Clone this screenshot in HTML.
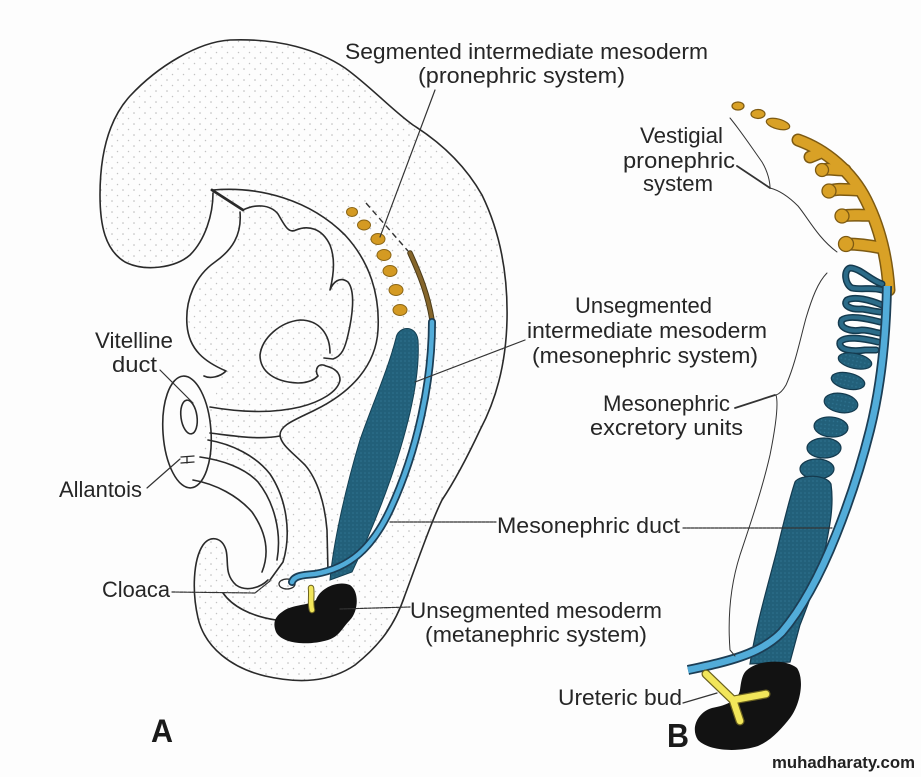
<!DOCTYPE html>
<html>
<head>
<meta charset="utf-8">
<style>
html,body{margin:0;padding:0;background:#fdfdfd;}
svg{display:block;}
text{font-family:"Liberation Sans",Arial,sans-serif;fill:#262626;}
</style>
</head>
<body>
<svg width="921" height="777" viewBox="0 0 921 777" xmlns="http://www.w3.org/2000/svg">
<defs>
<pattern id="st" width="11" height="11" patternUnits="userSpaceOnUse">
<circle cx="2" cy="3" r="0.75" fill="#b4b4b4"/>
<circle cx="7.5" cy="8.5" r="0.75" fill="#c2c2c2"/>
</pattern>
<pattern id="tp" width="4" height="4" patternUnits="userSpaceOnUse">
<rect width="4" height="4" fill="#22607a"/>
<circle cx="1" cy="1" r="0.8" fill="#2f7390"/>
</pattern>
</defs>
<rect width="921" height="777" fill="#fdfdfd"/>

<!-- Embryo A stipple fill -->
<path fill="url(#st)" d="M213,193 C213,215 205,240 190,255 C175,268 145,272 125,262 C105,250 100,225 100,195 C100,150 110,118 130,96 C158,66 198,42 230,40 C280,38 318,50 345,68 C370,86 392,110 413,125 C440,142 465,165 482,195 C500,232 508,275 507,320 C506,365 496,400 480,430 C465,462 452,485 442,500 C432,520 418,560 405,595 C395,625 380,645 355,665 C330,682 300,684 265,676 C232,668 205,648 198,618 C192,592 193,560 203,545 C210,535 222,537 226,550 C229,562 224,574 236,585 C246,592 260,588 268,580 L280,550 L275,505 L250,475 L205,455 L200,440 L212,405 L222,376 L200,352 L187,318 L200,280 L233,252 L237,222 Z"/>

<g fill="none" stroke="#2a2a2a" stroke-width="1.6" stroke-linecap="round" stroke-linejoin="round">
<!-- outer outline -->
<path d="M213,193 C213,215 205,240 190,255 C175,268 145,272 125,262 C105,250 100,225 100,195 C100,150 110,118 130,96 C158,66 198,42 230,40 C280,38 318,50 345,68 C370,86 392,110 413,125 C440,142 465,165 482,195 C500,232 508,275 507,320 C506,365 496,400 480,430 C465,462 452,485 442,500 C432,520 418,560 405,595 C395,625 380,645 355,665 C330,682 300,684 265,676 C232,668 205,648 198,618 C192,592 193,560 203,545 C210,535 222,537 226,550 C229,562 224,574 236,585 C246,592 260,588 268,580"/>
<!-- stomodeum -->
<path d="M212,190 L243,210" stroke-width="2.8"/>
<!-- heart outer -->
<path d="M240,212 C242,235 232,250 215,262 C195,276 185,300 187,325 C189,350 205,362 226,371 C220,377 210,379 204,376"/>
<!-- inner cavity line -->
<path d="M243,210 C255,204 270,204 278,214 C284,224 288,234 296,230 C308,225 322,228 330,245 C336,260 333,278 330,290 C333,282 340,276 348,282 C356,292 352,318 348,335 C345,348 342,356 333,359 L324,358"/>
<!-- heart inner loop -->
<path d="M330,353 C330,335 320,320 300,320 C280,322 262,338 260,355 C260,372 275,382 298,383 C308,383 314,380 318,376 C314,370 318,362 326,366 C334,368 340,372 340,380 C338,392 320,402 300,407 C275,413 245,413 210,407"/>
<!-- pericardial C -->
<path d="M213,190 C260,186 310,200 345,235 C370,262 380,295 378,330 C376,365 352,392 315,410 C295,420 280,425 280,435 C281,445 292,452 305,465 C318,480 325,505 327,530 L328,572"/>
<!-- vitelline cylinder -->
<ellipse cx="187" cy="432" rx="24" ry="56" transform="rotate(-4 187 432)"/>
<ellipse cx="189" cy="417" rx="8" ry="17" transform="rotate(-8 189 417)"/>
<path d="M210,433 C235,436 258,440 280,436"/>
<!-- allantois nested lines -->
<path d="M208,440 C232,444 256,456 270,474 C286,498 292,532 283,562 L270,580"/>
<path d="M200,457 C222,460 245,468 258,482 C274,502 282,532 277,560"/>
<path d="M193,480 C216,484 238,496 252,512 C266,532 270,552 262,572"/>
<path d="M181,457 L194,456 M181,463 L194,462 M187,457 L187,463" stroke-width="1.3"/>
<!-- cloaca -->
<path d="M223,593 C232,606 250,616 276,620"/>
<ellipse cx="287" cy="584" rx="8" ry="5" stroke-width="1.3"/>
</g>

<!-- dashed line & brown strip A -->
<path d="M366,203 L408,251" stroke="#333" stroke-width="1.4" stroke-dasharray="6,4" fill="none"/>
<path d="M410,253 C420,275 428,295 432,320" stroke="#4a3a18" stroke-width="5.5" fill="none" stroke-linecap="round"/>
<path d="M410,253 C420,275 428,295 432,320" stroke="#85652a" stroke-width="3.5" fill="none" stroke-linecap="round"/>

<!-- gold dots A -->
<g fill="#d49a22" stroke="#8a6516" stroke-width="1">
<ellipse cx="352" cy="212" rx="5.5" ry="4.5"/>
<ellipse cx="364" cy="225" rx="6.5" ry="5"/>
<ellipse cx="378" cy="239" rx="7" ry="5.5"/>
<ellipse cx="384" cy="255" rx="7" ry="5.5"/>
<ellipse cx="390" cy="271" rx="7" ry="5.5"/>
<ellipse cx="396" cy="290" rx="7" ry="5.5"/>
<ellipse cx="400" cy="310" rx="7" ry="5.5"/>
</g>

<!-- blue mass A -->
<path fill="url(#tp)" stroke="#143f52" stroke-width="1" d="M396,338 C398,326 416,324 418,340 C420,370 412,410 400,450 C388,490 372,530 352,572 L330,580 C333,545 345,490 360,440 C372,405 388,370 396,338 Z"/>
<!-- duct A -->
<path d="M432,322 C432,380 418,450 390,510 C372,548 350,568 315,574 C302,575 294,576 292,582" stroke="#1c3e55" stroke-width="8" fill="none" stroke-linecap="round"/>
<path d="M432,322 C432,380 418,450 390,510 C372,548 350,568 315,574 C302,575 294,576 292,582" stroke="#52acd9" stroke-width="4.5" fill="none" stroke-linecap="round"/>
<!-- black A -->
<path fill="#121212" d="M282,612 C292,604 308,606 316,600 C320,588 338,580 350,585 C360,592 358,612 350,620 C342,628 340,636 328,640 C308,646 282,644 276,632 C272,622 276,616 282,612 Z"/>
<path d="M311,588 C312,596 310,603 312,610" stroke="#6b6220" stroke-width="6.5" fill="none" stroke-linecap="round"/>
<path d="M311,588 C312,596 310,603 312,610" stroke="#f2e65a" stroke-width="4.5" fill="none" stroke-linecap="round"/>

<!-- ===== B ===== -->
<!-- gold B -->
<g fill="#d9a126" stroke="#7d5a12" stroke-width="1.2">
<ellipse cx="738" cy="106" rx="6" ry="4"/>
<ellipse cx="758" cy="114" rx="7" ry="4.5"/>
<ellipse cx="778" cy="124" rx="12" ry="5" transform="rotate(15 778 124)"/>
</g>
<g fill="none" stroke-linecap="round">
<g stroke="#7d5a12" stroke-width="13">
<path d="M798,140 C826,150 852,172 866,200 C880,228 887,258 889,290"/>
<path d="M822,152 L810,157"/>
<path d="M845,170 C835,170 828,168 823,170"/>
<path d="M858,190 C848,190 838,188 830,191"/>
<path d="M872,215 C862,216 852,214 843,216"/>
<path d="M882,248 C872,246 860,244 847,244"/>
</g>
<g stroke="#d9a126" stroke-width="10">
<path d="M798,140 C826,150 852,172 866,200 C880,228 887,258 889,290"/>
<path d="M822,152 L810,157"/>
<path d="M845,170 C835,170 828,168 823,170"/>
<path d="M858,190 C848,190 838,188 830,191"/>
<path d="M872,215 C862,216 852,214 843,216"/>
<path d="M882,248 C872,246 860,244 847,244"/>
</g>
</g>
<g fill="#d9a126" stroke="#7d5a12" stroke-width="1.3">
<circle cx="822" cy="170" r="6.5"/>
<circle cx="829" cy="191" r="7"/>
<circle cx="842" cy="216" r="7"/>
<circle cx="846" cy="244" r="7.5"/>
</g>

<!-- tubules B -->
<g fill="none" stroke-linecap="round" stroke-linejoin="round">
<g stroke="#143a4e" stroke-width="7">
<path d="M882,284 C870,280 860,268 850,268 C843,270 845,285 852,288 C862,290 872,287 882,290"/>
<path d="M882,305 C870,300 855,296 847,300 C842,306 852,310 862,309 C870,310 876,312 882,312"/>
<path d="M880,322 C865,318 848,315 842,320 C838,328 850,332 862,330 C870,330 876,333 880,333"/>
<path d="M878,342 C862,338 845,336 840,342 C838,350 852,352 865,350 L876,350"/>
</g>
<g stroke="#2b6b88" stroke-width="4">
<path d="M882,284 C870,280 860,268 850,268 C843,270 845,285 852,288 C862,290 872,287 882,290"/>
<path d="M882,305 C870,300 855,296 847,300 C842,306 852,310 862,309 C870,310 876,312 882,312"/>
<path d="M880,322 C865,318 848,315 842,320 C838,328 850,332 862,330 C870,330 876,333 880,333"/>
<path d="M878,342 C862,338 845,336 840,342 C838,350 852,352 865,350 L876,350"/>
</g>
</g>
<g fill="url(#tp)" stroke="#143a4e" stroke-width="1.2">
<ellipse cx="855" cy="361" rx="17" ry="7.5" transform="rotate(12 855 361)"/>
<ellipse cx="848" cy="381" rx="17" ry="8" transform="rotate(12 848 381)"/>
<ellipse cx="841" cy="403" rx="17" ry="9.5" transform="rotate(10 841 403)"/>
<ellipse cx="831" cy="427" rx="17" ry="10" transform="rotate(5 831 427)"/>
<ellipse cx="824" cy="448" rx="17" ry="10"/>
<ellipse cx="817" cy="469" rx="17" ry="10"/>
<path d="M795,482 C800,474 826,474 831,484 C834,505 830,525 826,545 C819,575 810,600 800,625 L790,662 L750,664 C756,625 768,585 777,550 C783,525 789,500 795,482 Z"/>
</g>
<!-- duct B -->
<path d="M887,286 C886,340 880,390 870,430 C860,470 848,505 836,535 C822,570 805,605 782,632 C760,655 725,662 688,670" stroke="#1c3e55" stroke-width="10" fill="none"/>
<path d="M887,286 C886,340 880,390 870,430 C860,470 848,505 836,535 C822,570 805,605 782,632 C760,655 725,662 688,670" stroke="#52acd9" stroke-width="6.5" fill="none"/>
<!-- black B -->
<path fill="#121212" d="M745,672 C755,660 785,658 797,668 C805,680 800,705 790,718 C782,728 772,740 758,746 C740,752 710,752 698,740 C690,728 698,712 712,708 C728,705 738,700 740,690 C741,682 742,676 745,672 Z"/>
<g fill="none" stroke-linecap="round" stroke-linejoin="round">
<path d="M706,674 L733,700 L766,694 M733,700 L740,721" stroke="#6b6220" stroke-width="9"/>
<path d="M706,674 L733,700 L766,694 M733,700 L740,721" stroke="#f2e65a" stroke-width="6.5"/>
</g>

<!-- leader lines & braces -->
<g fill="none" stroke="#333" stroke-width="1.2" stroke-linecap="round">
<path d="M435,90 L380,237"/>
<path d="M525,340 L415,382"/>
<path d="M160,370 L193,403"/>
<path d="M147,488 L180,459"/>
<path d="M172,592 L255,593 L270,581" stroke-dasharray="3,1"/>
<path d="M390,522 L496,522" stroke-dasharray="3,1"/>
<path d="M683,528 L832,528" stroke-dasharray="3,1"/>
<path d="M340,609 L410,607" stroke-dasharray="3,1"/>
<path d="M683,703 L717,693"/>
<path d="M737,166 L770,188" stroke-width="1.8"/>
<path d="M735,408 L775,395" stroke-width="1.8"/>
<path d="M730,118 C740,130 750,145 762,162 C768,172 770,182 770,188 C778,190 788,196 798,206 C808,218 818,238 837,252" stroke-width="1"/>
<path d="M827,273 C818,282 812,298 806,318 C800,340 795,365 786,385 C782,392 779,394 776,395 C779,405 775,430 770,455 C762,490 750,525 740,555 C732,580 727,610 730,650 L735,656" stroke-width="1"/>
</g>

<!-- labels -->
<g font-size="22">
<text x="345" y="59" textLength="363" lengthAdjust="spacingAndGlyphs">Segmented intermediate mesoderm</text>
<text x="418" y="83" textLength="207" lengthAdjust="spacingAndGlyphs">(pronephric system)</text>
<text x="640" y="143" textLength="83" lengthAdjust="spacingAndGlyphs">Vestigial</text>
<text x="623" y="168" textLength="112" lengthAdjust="spacingAndGlyphs">pronephric</text>
<text x="643" y="191" textLength="70" lengthAdjust="spacingAndGlyphs">system</text>
<text x="575" y="313" textLength="137" lengthAdjust="spacingAndGlyphs">Unsegmented</text>
<text x="527" y="338" textLength="240" lengthAdjust="spacingAndGlyphs">intermediate mesoderm</text>
<text x="532" y="363" textLength="226" lengthAdjust="spacingAndGlyphs">(mesonephric system)</text>
<text x="603" y="411" textLength="127" lengthAdjust="spacingAndGlyphs">Mesonephric</text>
<text x="590" y="435" textLength="153" lengthAdjust="spacingAndGlyphs">excretory units</text>
<text x="95" y="348" textLength="78" lengthAdjust="spacingAndGlyphs">Vitelline</text>
<text x="112" y="372" textLength="45" lengthAdjust="spacingAndGlyphs">duct</text>
<text x="59" y="497" textLength="83" lengthAdjust="spacingAndGlyphs">Allantois</text>
<text x="102" y="597" textLength="68" lengthAdjust="spacingAndGlyphs">Cloaca</text>
<text x="497" y="533" textLength="183" lengthAdjust="spacingAndGlyphs">Mesonephric duct</text>
<text x="410" y="618" textLength="252" lengthAdjust="spacingAndGlyphs">Unsegmented mesoderm</text>
<text x="425" y="642" textLength="222" lengthAdjust="spacingAndGlyphs">(metanephric system)</text>
<text x="558" y="705" textLength="124" lengthAdjust="spacingAndGlyphs">Ureteric bud</text>
</g>
<text x="151" y="742" font-size="32" font-weight="bold" textLength="22" lengthAdjust="spacingAndGlyphs" style="fill:#1a1a1a">A</text>
<text x="667" y="747" font-size="33" font-weight="bold" textLength="22" lengthAdjust="spacingAndGlyphs" style="fill:#1a1a1a">B</text>
<text x="772" y="768" font-size="17" font-weight="bold" textLength="143" lengthAdjust="spacingAndGlyphs" style="fill:#222">muhadharaty.com</text>
</svg>
</body>
</html>
